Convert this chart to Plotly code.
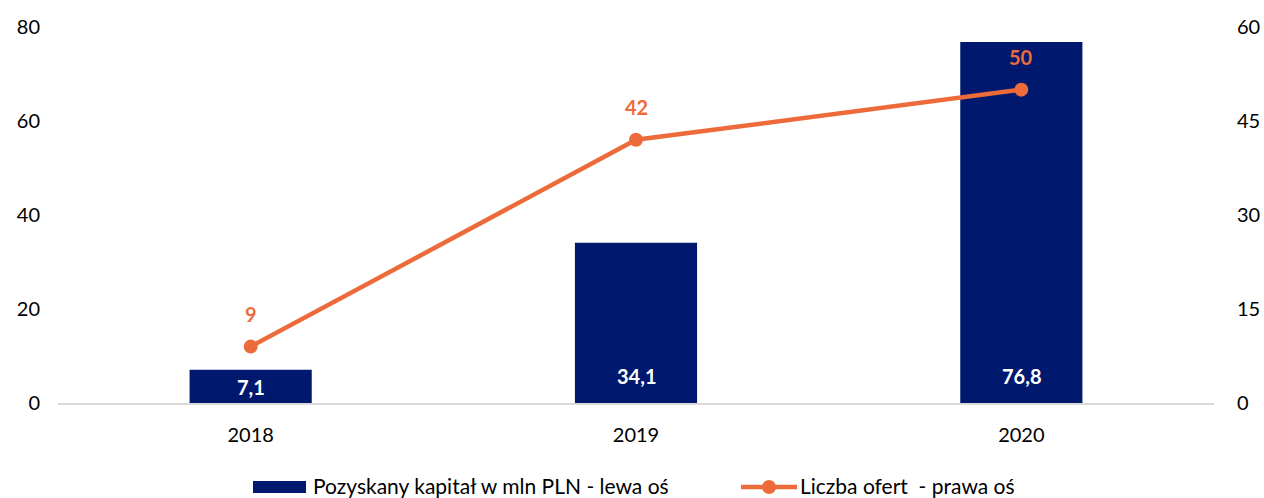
import plotly.graph_objects as go

years = ["2018", "2019", "2020"]
capital = [7.1, 34.1, 76.8]
offers = [9, 42, 50]
capital_labels = ["7,1", "34,1", "76,8"]
left_ticks = [0, 20, 40, 60, 80]
right_ticks = [0, 15, 30, 45, 60]

NAVY = "#00186E"
ORANGE = "#ED6B3B"
FONT = "Lato, 'Open Sans', sans-serif"

L, R, T, B = 58, 50, 27, 95
W, H = 1264, 498
PW, PH = W - L - R, H - T - B  # plot area size
YMAX = 80

fig = go.Figure()
fig.add_trace(go.Bar(
    x=years, y=capital, name="Pozyskany kapitał w mln PLN - lewa oś",
    marker=dict(color=NAVY, line=dict(width=0)), width=0.317,
    showlegend=False, yaxis="y", hoverinfo="x+y"))
fig.add_trace(go.Scatter(
    x=years, y=offers, name="Liczba ofert  - prawa oś", mode="lines+markers",
    line=dict(color=ORANGE, width=4.5), marker=dict(color=ORANGE, size=14),
    showlegend=False, yaxis="y2"))

# bar value labels near the base ("inside base")
for i, (v, lab) in enumerate(zip(capital, capital_labels)):
    bar_px = v * PH / YMAX
    fig.add_annotation(x=i, y=0, xref="x", yref="y", text=f"<b>{lab}</b>", showarrow=False,
                       yanchor="middle", yshift=min(27, bar_px / 2 - 1),
                       font=dict(color="white", size=20, family=FONT))

# line value labels
for i, v in enumerate(offers):
    fig.add_annotation(x=i, y=v, xref="x", yref="y2", text=f"<b>{v}</b>", showarrow=False,
                       yanchor="middle", yshift=33, font=dict(color=ORANGE, size=20, family=FONT))

# manual legend (page pixel -> paper coords)
def px(x):
    return (x - L) / PW

def py(y):
    return (H - B - y) / PH

fig.add_shape(type="rect", xref="paper", yref="paper",
              x0=px(253), x1=px(306), y0=py(481), y1=py(493),
              fillcolor=NAVY, line=dict(width=0))
fig.add_annotation(xref="paper", yref="paper", x=px(311), y=py(485),
                   xanchor="left", yanchor="middle", showarrow=False,
                   text="Pozyskany kapitał w mln PLN - lewa oś",
                   font=dict(size=21, color="#000000", family=FONT))
fig.add_shape(type="line", xref="paper", yref="paper",
              x0=px(741), x1=px(797), y0=py(487), y1=py(487),
              line=dict(color=ORANGE, width=4.5))
fig.add_shape(type="circle", xref="paper", yref="paper",
              x0=px(762), x1=px(776), y0=py(480), y1=py(494),
              fillcolor=ORANGE, line=dict(width=0))
fig.add_annotation(xref="paper", yref="paper", x=px(798), y=py(485),
                   xanchor="left", yanchor="middle", showarrow=False,
                   text="Liczba ofert  - prawa oś",
                   font=dict(size=21, color="#000000", family=FONT))

fig.update_layout(
    width=W, height=H,
    margin=dict(l=L, r=R, t=T, b=B, autoexpand=False),
    paper_bgcolor="white", plot_bgcolor="white",
    font=dict(family=FONT, size=20, color="#000000"),
    xaxis=dict(type="category", range=[-0.5, 2.5], showgrid=False, showline=True,
               linecolor="#D9D9D9", linewidth=1.5, ticks="", tickfont=dict(size=20),
               ticklabelstandoff=13, automargin=False),
    yaxis=dict(range=[0, YMAX], tickvals=left_ticks, showgrid=False, zeroline=False,
               showline=False, ticks="", tickfont=dict(size=20), ticklabelstandoff=17,
               automargin=False),
    yaxis2=dict(range=[0, 60], tickvals=right_ticks, overlaying="y", side="right",
                showgrid=False, zeroline=False, showline=False, ticks="",
                tickfont=dict(size=20), ticklabelstandoff=22, automargin=False),
    showlegend=False,
)

fig.write_html(
    "out.html",
    config={"displayModeBar": False},
    post_script="document.body.style.margin='0';document.body.style.overflow='hidden';",
)
